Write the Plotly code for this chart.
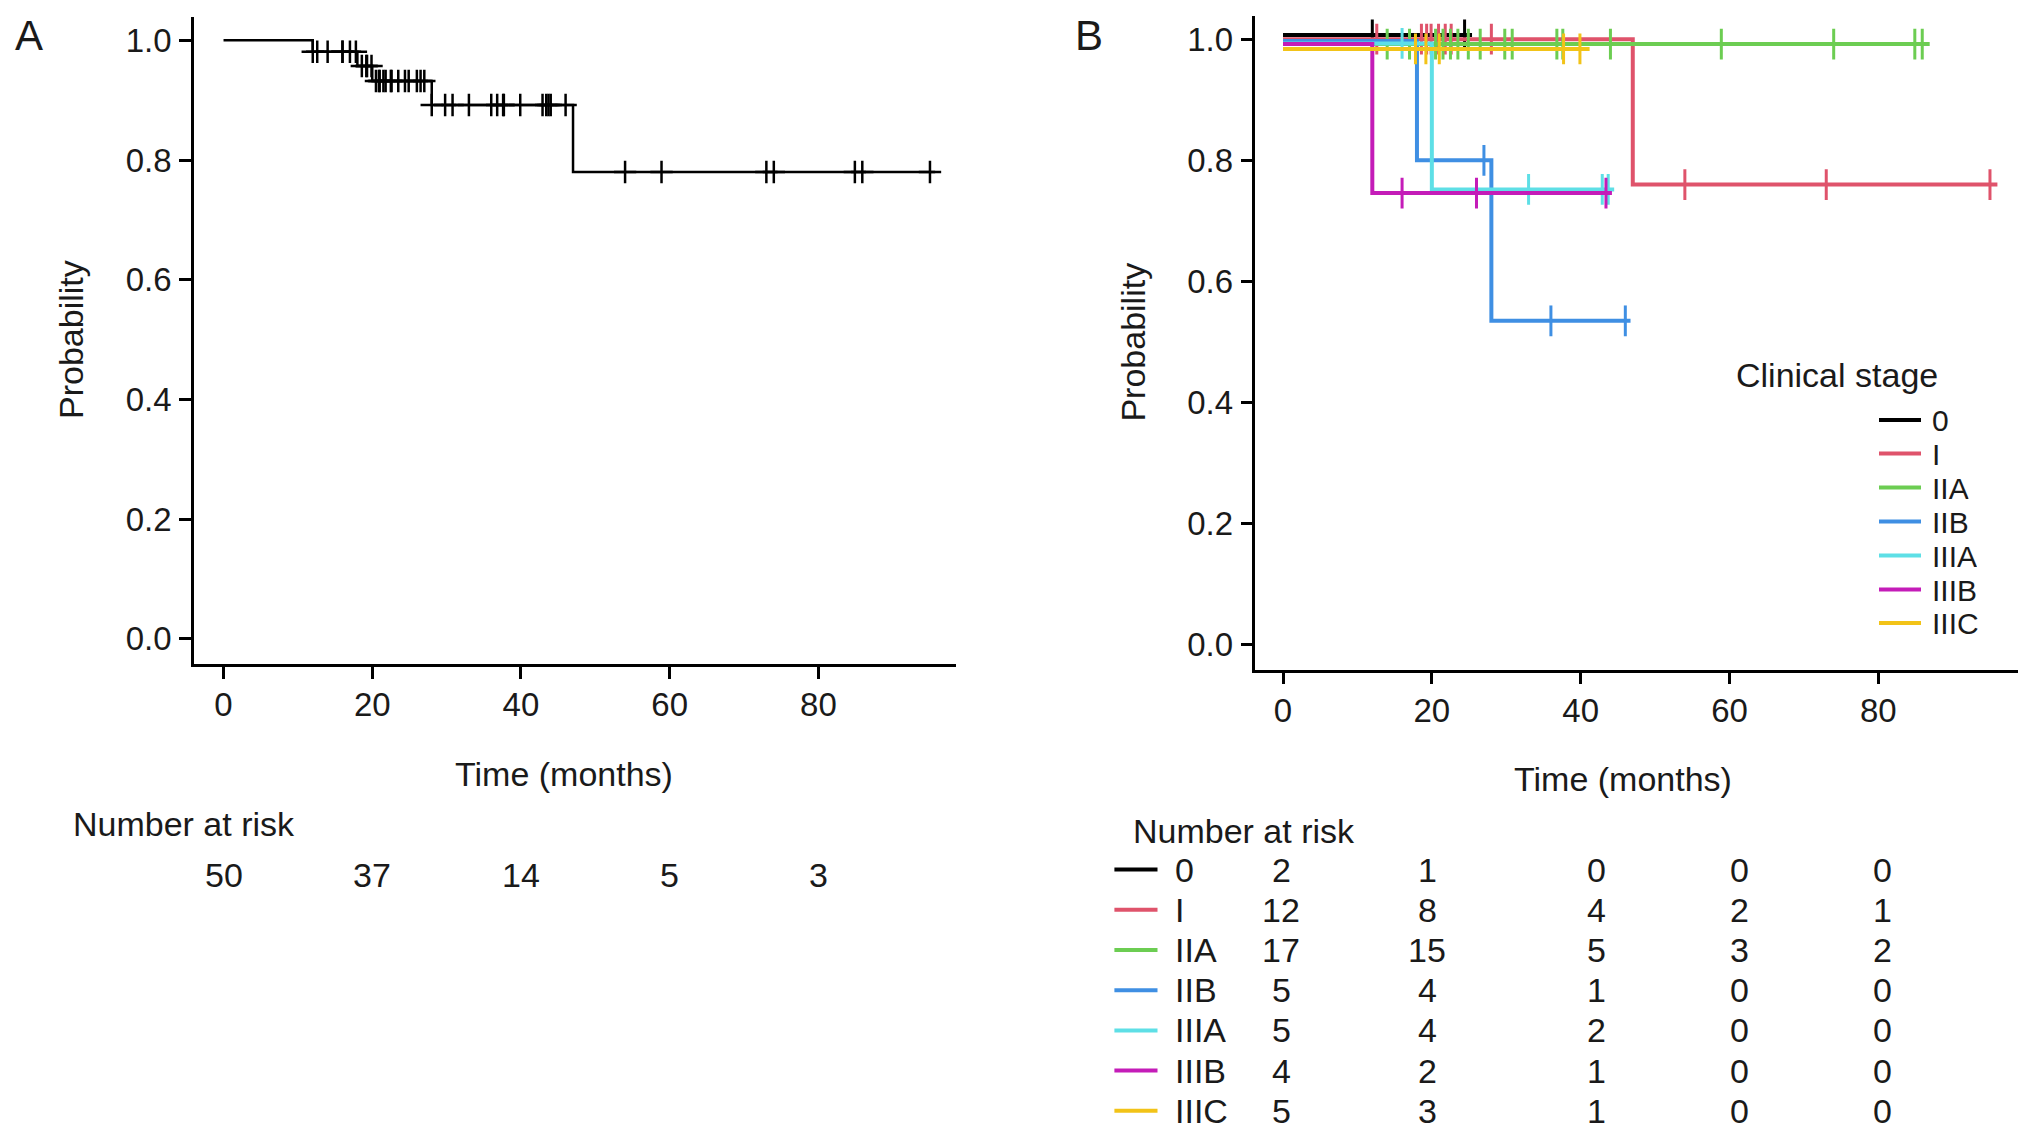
import numpy as np
import plotly.graph_objects as go

W, H = 2032, 1136          # picture size
FONT = "Liberation Sans, Arial, Helvetica, sans-serif"
TXT = "#1a1a1a"
FS = 34
TFS = 33
LFS = 30                   # legend entry labels

# ---------------- Panel A: all patients ----------------
a_step_times = [0, 12, 18, 20, 28, 47]
a_step_surv = [1.0, 0.981, 0.957, 0.932, 0.892, 0.780]
a_end_time = 95.7
risk_times = [0, 20, 40, 60, 80]
a_risk_counts = [50, 37, 14, 5, 3]

# ---------------- Panel B: by clinical stage ----------------
stages = ["0", "I", "IIA", "IIB", "IIIA", "IIIB", "IIIC"]
stage_colors = ["#000000", "#DF536B", "#6CCD52", "#3F8FE3", "#5EDFE6", "#C41CB8", "#F2C318"]
b_step_times = [[0], [0, 47], [0], [0, 18, 28], [0, 20], [0, 12], [0]]
b_step_surv = [[1.007], [1.0, 0.760], [0.992], [0.997, 0.800, 0.535],
               [0.993, 0.752], [0.992, 0.746], [0.984]]
b_end_time = [25.4, 96.0, 86.9, 46.7, 44.5, 44.2, 41.2]
b_censor = [
    [12, 24.4],
    [12.6, 18.6, 19.3, 19.9, 20.9, 21.8, 22.6, 28, 54, 73, 95],
    [14, 17, 20.5, 21.5, 22.5, 23.5, 24.9, 26.5, 29.8, 30.8, 36.8, 37.6, 44, 58.9, 74, 84.9, 85.9],
    [27, 36, 46],
    [16, 33, 42.9, 43.7],
    [16, 26, 43.4],
    [17.8, 19.2, 21, 37.7, 39.9],
]
b_risk_counts = [
    [2, 1, 0, 0, 0],
    [12, 8, 4, 2, 1],
    [17, 15, 5, 3, 2],
    [5, 4, 1, 0, 0],
    [5, 4, 2, 0, 0],
    [4, 2, 1, 0, 0],
    [5, 3, 1, 0, 0],
]

# censoring marks of the whole cohort (pooled from the stage groups)
a_censor = sorted(t for grp in b_censor for t in grp)


def step_value(times, surv, t):
    idx = np.searchsorted(np.asarray(times), np.asarray(t), side="right") - 1
    return np.asarray(surv)[idx]


def px(x):
    return x / W


def py(y):
    return 1 - y / H


fig = go.Figure()

# Panel A curve
fig.add_trace(go.Scatter(
    x=a_step_times + [a_end_time], y=a_step_surv + [a_step_surv[-1]],
    mode="lines", line=dict(color="black", width=2.5, shape="hv"),
    xaxis="x", yaxis="y", showlegend=False, hoverinfo="skip"))
fig.add_trace(go.Scatter(
    x=a_censor, y=step_value(a_step_times, a_step_surv, a_censor),
    mode="markers", marker=dict(symbol="cross-thin", size=16, color="black",
                                line=dict(color="black", width=2.5)),
    xaxis="x", yaxis="y", showlegend=False, hoverinfo="skip"))

# Panel B curves
for i, name in enumerate(stages):
    t = b_step_times[i]
    s = b_step_surv[i]
    col = stage_colors[i]
    fig.add_trace(go.Scatter(
        x=t + [b_end_time[i]], y=s + [s[-1]], mode="lines",
        line=dict(color=col, width=4, shape="hv"),
        xaxis="x2", yaxis="y2", showlegend=False, name=name, hoverinfo="skip"))
    fig.add_trace(go.Scatter(
        x=b_censor[i], y=step_value(t, s, b_censor[i]), mode="markers",
        marker=dict(symbol="line-ns", size=22, color=col, line=dict(color=col, width=3)),
        xaxis="x2", yaxis="y2", showlegend=False, hoverinfo="skip"))

axis_common = dict(showgrid=False, zeroline=False, showline=True, linecolor="black",
                   linewidth=2.5, ticks="outside", ticklen=12, tickwidth=2.5,
                   tickcolor="black", tickfont=dict(family=FONT, size=TFS, color=TXT))

fig.update_layout(
    width=W, height=H, margin=dict(l=0, r=0, t=0, b=0),
    paper_bgcolor="white", plot_bgcolor="white", showlegend=False,
    xaxis=dict(domain=[px(194), px(956)], range=[-3.97, 98.5], tickvals=risk_times,
               anchor="y", ticklabelstandoff=-2, **axis_common),
    yaxis=dict(domain=[py(663.8), py(17)], range=[-0.042, 1.039],
               tickvals=[0, 0.2, 0.4, 0.6, 0.8, 1.0], tickformat=".1f",
               anchor="x", ticklabelstandoff=1, **axis_common),
    xaxis2=dict(domain=[px(1255.4), px(2017.5)], range=[-3.71, 98.7], tickvals=risk_times,
                anchor="y2", ticklabelstandoff=-2, **axis_common),
    yaxis2=dict(domain=[py(669.5), py(15.7)], range=[-0.0406, 1.0388],
                tickvals=[0, 0.2, 0.4, 0.6, 0.8, 1.0], tickformat=".1f",
                anchor="x2", ticklabelstandoff=1, **axis_common),
)

ann = []


def text(x, y, s, size=FS, xanchor="center", angle=0, xref="paper", xshift=0, height=None):
    a = dict(x=x, y=y, xref=xref, yref="paper", text=s, showarrow=False,
             xanchor=xanchor, yanchor="middle", textangle=angle, xshift=xshift,
             borderpad=0, font=dict(family=FONT, size=size, color=TXT))
    if height is not None:
        a["height"] = height
    ann.append(a)


# Panel letters
text(px(29), py(36), "A", size=42)
text(px(1089), py(36), "B", size=42)
# axis titles
text(px(71), py(340), "Probability", angle=-90)
text(px(1133), py(342.6), "Probability", angle=-90)
text(px(564), py(774), "Time (months)")
text(px(1623), py(779), "Time (months)")

# Panel A risk table
text(px(72), py(824), "Number at risk", xanchor="left")
for tt, n in zip(risk_times, a_risk_counts):
    text(tt, py(875), str(n), xref="x")

# Panel B legend
text(px(1836.5), py(375.5), "Clinical stage")
legend_y = [420, 453.5, 487.5, 521.5, 555.5, 589.5, 623]
shapes = []
for i, name in enumerate(stages):
    shapes.append(dict(type="line", xref="paper", yref="paper",
                       x0=px(1879), x1=px(1921), y0=py(legend_y[i]), y1=py(legend_y[i]),
                       line=dict(color=stage_colors[i], width=4)))
    text(px(1931), py(legend_y[i]), name, size=LFS, xanchor="left", height=32)

# Panel B risk table
text(px(1132), py(830.7), "Number at risk", xanchor="left", height=36)
col_shift = [-2, -4.5, 16, 9.6, 4.3]
for i, name in enumerate(stages):
    yy = 869.6 + 40.2 * i
    shapes.append(dict(type="line", xref="paper", yref="paper",
                       x0=px(1114.4), x1=px(1157.5), y0=py(yy), y1=py(yy),
                       line=dict(color=stage_colors[i], width=4)))
    text(px(1174), py(yy), name, xanchor="left", height=36)
    for j, (tt, n) in enumerate(zip(risk_times, b_risk_counts[i])):
        text(tt, py(yy), str(n), xref="x2", xshift=col_shift[j], height=36)

fig.update_layout(annotations=ann, shapes=shapes)
fig.write_html("out.html", config={"displayModeBar": False},
               post_script="document.body.style.margin='0px';"
                           "document.documentElement.style.overflow='hidden';")
